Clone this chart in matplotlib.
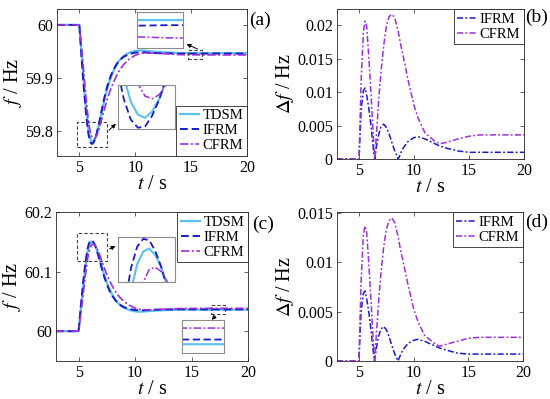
import matplotlib
matplotlib.use("Agg")
import matplotlib.pyplot as plt
from matplotlib.patches import Rectangle

plt.rcParams['font.family'] = ['Liberation Serif', 'DejaVu Serif']
plt.rcParams['mathtext.fontset'] = 'stix'

# ---------------- data ----------------
t_f = [3.0, 5.0, 5.2, 5.4, 5.6, 5.8, 5.9, 6.0, 6.1, 6.2, 6.3, 6.4, 6.5, 6.6, 6.8, 7.0,
       7.25, 7.5, 7.75, 8.0, 8.25, 8.5, 8.75, 9.0, 9.5, 10.0, 10.5, 11.0, 12.0, 13.0,
       14.0, 16.0, 18.0, 20.0]

# (a) frequency drop
a_tdsm = [60.000, 60.000, 59.945, 59.891, 59.842, 59.804, 59.792, 59.784, 59.780, 59.779,
          59.781, 59.785, 59.791, 59.798, 59.815, 59.835, 59.859, 59.880, 59.897, 59.911,
          59.922, 59.931, 59.937, 59.942, 59.948, 59.951, 59.952, 59.951, 59.949, 59.948,
          59.947, 59.947, 59.947, 59.947]
a_ifrm = [60.000, 60.000, 59.9375, 59.8808, 59.8316, 59.7957, 59.7850, 59.7784, 59.7759,
          59.7763, 59.7797, 59.7848, 59.7918, 59.7998, 59.8185, 59.8397, 59.8642, 59.8847,
          59.9007, 59.9134, 59.9232, 59.9312, 59.9362, 59.9404, 59.9453, 59.9478, 59.9487,
          59.9480, 59.9468, 59.9464, 59.9458, 59.9460, 59.9460, 59.9460]
a_cfrm = [60.000, 60.000, 59.957, 59.910, 59.8625, 59.8215, 59.8072, 59.7965, 59.7897,
          59.7858, 59.7850, 59.7863, 59.7896, 59.7940, 59.8060, 59.8220, 59.8420, 59.8602,
          59.8758, 59.8894, 59.9009, 59.9113, 59.9193, 59.9263, 59.9363, 59.9428, 59.9464,
          59.9471, 59.9465, 59.9454, 59.9439, 59.9435, 59.9434, 59.9434]

# (c) frequency rise
c_tdsm = [60.000, 60.000, 60.0374, 60.0741, 60.1074, 60.1333, 60.1414, 60.1469, 60.1496,
          60.1503, 60.1489, 60.1462, 60.1421, 60.1374, 60.1258, 60.1122, 60.0959, 60.0816,
          60.0700, 60.0605, 60.0530, 60.0469, 60.0428, 60.0394, 60.0354, 60.0333, 60.0326,
          60.0333, 60.0347, 60.0354, 60.0360, 60.0360, 60.0360, 60.0360]
c_ifrm = [60.000, 60.000, 60.0425, 60.0810, 60.1145, 60.1389, 60.1462, 60.1507, 60.1524,
          60.1521, 60.1498, 60.1463, 60.1416, 60.1362, 60.1234, 60.1090, 60.0924, 60.0784,
          60.0675, 60.0589, 60.0522, 60.0468, 60.0433, 60.0405, 60.0372, 60.0355, 60.0348,
          60.0353, 60.0362, 60.0365, 60.0368, 60.0367, 60.0367, 60.0367]
c_cfrm = [60.000, 60.000, 60.0292, 60.0612, 60.0935, 60.1214, 60.1311, 60.1384, 60.1430,
          60.1457, 60.1462, 60.1453, 60.1431, 60.1401, 60.1319, 60.1210, 60.1075, 60.0951,
          60.0844, 60.0752, 60.0673, 60.0603, 60.0548, 60.0501, 60.0434, 60.0389, 60.0364,
          60.0360, 60.0364, 60.0372, 60.0381, 60.0384, 60.0384, 60.0384]

# (b), (d) deviations
t_d = [3.0, 5.0, 5.2, 5.4, 5.55, 5.7, 5.9, 6.1, 6.3, 6.43, 6.6, 6.8, 7.0, 7.25, 7.5, 7.75,
       8.0, 8.25, 8.57, 8.8, 9.0, 9.5, 10.0, 10.4, 11.0, 12.0, 12.4, 13.0, 14.0, 15.0,
       16.0, 18.0, 20.0]
b_ifrm = [0, 0, 0.0075, 0.0102, 0.0106, 0.0095, 0.0075, 0.0048, 0.0016, 0.0, 0.0020,
          0.0037, 0.0048, 0.0052, 0.0047, 0.0037, 0.0024, 0.0012, 0.0, 0.0009, 0.0016,
          0.0027, 0.0032, 0.0033, 0.0030, 0.0022, 0.0019, 0.0016, 0.0012, 0.0010, 0.0010,
          0.0010, 0.0010]
b_cfrm = [0, 0, 0.012, 0.019, 0.0206, 0.0198, 0.015, 0.0095, 0.0035, 0.0, 0.004, 0.009,
          0.013, 0.017, 0.020, 0.0213, 0.0216, 0.0211, 0.019, 0.017, 0.0155, 0.0115, 0.008,
          0.006, 0.0039, 0.0025, 0.0023, 0.0025, 0.0030, 0.0034, 0.0036, 0.0036, 0.0036]
d_ifrm = [0, 0, 0.0050, 0.0068, 0.0071, 0.0064, 0.0050, 0.0032, 0.0011, 0.0, 0.0013,
          0.0025, 0.0032, 0.0035, 0.0032, 0.0025, 0.0016, 0.0008, 0.0, 0.0006, 0.0011,
          0.0018, 0.0021, 0.0022, 0.0020, 0.0015, 0.0013, 0.0011, 0.0008, 0.0007, 0.0007,
          0.0007, 0.0007]
d_cfrm = [0, 0, 0.0080, 0.0127, 0.0137, 0.0132, 0.0100, 0.0063, 0.0023, 0.0, 0.0027,
          0.0060, 0.0087, 0.0114, 0.0133, 0.0142, 0.0145, 0.0141, 0.0127, 0.0113, 0.0103,
          0.0077, 0.0053, 0.0040, 0.0026, 0.0017, 0.0015, 0.0017, 0.0020, 0.0023, 0.0024,
          0.0024, 0.0024]

names = ['TDSM', 'IFRM', 'CFRM']
x_ticks = [5, 10, 15, 20]

# ---------------- style ----------------
C_T = '#5cc0ec'
C_I = '#1a1acc'
C_C = '#9b30d8'
W, H = 550, 399
fig = plt.figure(figsize=(W / 100, H / 100), dpi=100)

TICK_FS = 11.5
LAB_FS = 14.5


def rect(l, t, r, b):
    return [l / W, 1 - b / H, (r - l) / W, (b - t) / H]


def style(ax):
    ax.tick_params(direction='in', top=True, right=True, length=3, width=0.5,
                   labelsize=TICK_FS, pad=3, colors='#262626')
    for tl in ax.get_xticklabels() + ax.get_yticklabels():
        tl.set_color('black')
    for s in ax.spines.values():
        s.set_linewidth(0.6)
        s.set_color('#262626')


def freq_lines(ax, T, Ti, Cf, lw=1.4, label=True):
    ax.plot(t_f, T, color=C_T, lw=lw + 0.2, ls='-', label=names[0] if label else None)
    ax.plot(t_f, Ti, color=C_I, lw=lw, ls=(0, (4, 2)), label=names[1] if label else None)
    ax.plot(t_f, Cf, color=C_C, lw=lw - 0.2, ls=(0, (5, 1.5, 1.2, 1.5)),
            label=names[2] if label else None)


def inset(rc, T, Ti, Cf, xl, yl):
    ia = fig.add_axes(rect(*rc))
    freq_lines(ia, T, Ti, Cf, lw=1.3, label=False)
    ia.set_xlim(*xl)
    ia.set_ylim(*yl)
    ia.set_xticks([])
    ia.set_yticks([])
    for s in ia.spines.values():
        s.set_color('#8c8c8c')
        s.set_linewidth(0.8)
    return ia


def src_rect(ax, x0, x1, y0, y1):
    ax.add_patch(Rectangle((x0, y0), x1 - x0, y1 - y0, fill=False, ec='#404040',
                           lw=0.8, ls=(0, (3, 2)), zorder=5))


def arrow(p_from, p_to):
    fig.add_artist(matplotlib.patches.FancyArrowPatch(
        (p_from[0] / W, 1 - p_from[1] / H), (p_to[0] / W, 1 - p_to[1] / H),
        transform=fig.transFigure, arrowstyle='-|>', mutation_scale=6, lw=0.7,
        color='black'))


def legend(ax, loc, bbox):
    lg = ax.legend(loc=loc, bbox_to_anchor=bbox, fontsize=10.5, frameon=True,
                   fancybox=False, edgecolor='#262626', handlelength=1.3,
                   handletextpad=0.25, labelspacing=0.12, borderpad=0.25,
                   borderaxespad=0.0, framealpha=1)
    lg.get_frame().set_linewidth(0.6)
    return lg


def labels(ax, ylab):
    ax.set_xlabel(r'$t$ / s', fontsize=LAB_FS, labelpad=-1)
    ax.set_ylabel(ylab, fontsize=LAB_FS, labelpad=1)


# ---------- (a) ----------
ax_a = fig.add_axes(rect(57, 9, 247, 156))
freq_lines(ax_a, a_tdsm, a_ifrm, a_cfrm)
ax_a.set_xlim(3, 20)
ax_a.set_ylim(59.753, 60.030)
ax_a.set_xticks(x_ticks)
ax_a.set_yticks([59.8, 59.9, 60])
ax_a.set_yticklabels(['59.8', '59.9', '60'])
style(ax_a)
labels(ax_a, r'$f$ / Hz')
legend(ax_a, 'lower right', (1.0, 0.0))
src_rect(ax_a, 4.82, 7.5, 59.770, 59.817)
src_rect(ax_a, 14.73, 15.98, 59.936, 59.953)
inset((118, 85, 175, 129), a_tdsm, a_ifrm, a_cfrm, (5.82, 6.62), (59.7755, 59.7893))
inset((137, 12, 183, 48), a_tdsm, a_ifrm, a_cfrm, (15.0, 16.5), (59.9415, 59.9486))
arrow((107, 132), (118, 122))
arrow((200, 50), (184, 43))
fig.text(260 / W, 1 - 20 / H, '(a)', fontsize=14, ha='center', va='center')

# ---------- (b) ----------
ax_b = fig.add_axes(rect(337, 9, 524, 159))
ax_b.plot(t_d, b_ifrm, color=C_I, lw=1.1, ls=(0, (4, 1.5, 1.2, 1.5)), label='IFRM')
ax_b.plot(t_d, b_cfrm, color=C_C, lw=1.1, ls=(0, (4, 1.5, 1.2, 1.5)), label='CFRM')
ax_b.set_xlim(3, 20)
ax_b.set_ylim(0, 0.0224)
ax_b.set_xticks(x_ticks)
ax_b.set_yticks([0, 0.005, 0.01, 0.015, 0.02])
ax_b.set_yticklabels(['0', '0.005', '0.01', '0.015', '0.02'])
style(ax_b)
labels(ax_b, r'$\Delta f$ / Hz')
legend(ax_b, 'upper right', (1.0, 1.0))
fig.text(537 / W, 1 - 17 / H, '(b)', fontsize=14, ha='center', va='center')

# ---------- (c) ----------
ax_c = fig.add_axes(rect(56, 212, 248, 361))
freq_lines(ax_c, c_tdsm, c_ifrm, c_cfrm)
ax_c.set_xlim(3, 20)
ax_c.set_ylim(59.95, 60.2)
ax_c.set_xticks(x_ticks)
ax_c.set_yticks([60, 60.1, 60.2])
ax_c.set_yticklabels(['60', '60.1', '60.2'])
style(ax_c)
labels(ax_c, r'$f$ / Hz')
legend(ax_c, 'upper right', (1.0, 1.0))
src_rect(ax_c, 4.9, 7.5, 60.118, 60.165)
src_rect(ax_c, 16.7, 18.0, 60.029, 60.044)
inset((118, 237, 175, 282), c_tdsm, c_ifrm, c_cfrm, (5.68, 6.63), (60.143, 60.1528))
inset((182, 320, 224, 353), c_tdsm, c_ifrm, c_cfrm, (17.0, 18.5), (60.0347, 60.0396))
arrow((107, 250), (118, 245))
arrow((217, 314), (210, 322))
fig.text(263 / W, 1 - 224 / H, '(c)', fontsize=14, ha='center', va='center')

# ---------- (d) ----------
ax_d = fig.add_axes(rect(337, 212, 523, 361))
ax_d.plot(t_d, d_ifrm, color=C_I, lw=1.1, ls=(0, (4, 1.5, 1.2, 1.5)), label='IFRM')
ax_d.plot(t_d, d_cfrm, color=C_C, lw=1.1, ls=(0, (4, 1.5, 1.2, 1.5)), label='CFRM')
ax_d.set_xlim(3, 20)
ax_d.set_ylim(0, 0.0151)
ax_d.set_xticks(x_ticks)
ax_d.set_yticks([0, 0.005, 0.01, 0.015])
ax_d.set_yticklabels(['0', '0.005', '0.01', '0.015'])
style(ax_d)
labels(ax_d, r'$\Delta f$ / Hz')
legend(ax_d, 'upper right', (1.0, 1.0))
fig.text(537 / W, 1 - 222 / H, '(d)', fontsize=14, ha='center', va='center')

fig.savefig('out.png', dpi=100)
